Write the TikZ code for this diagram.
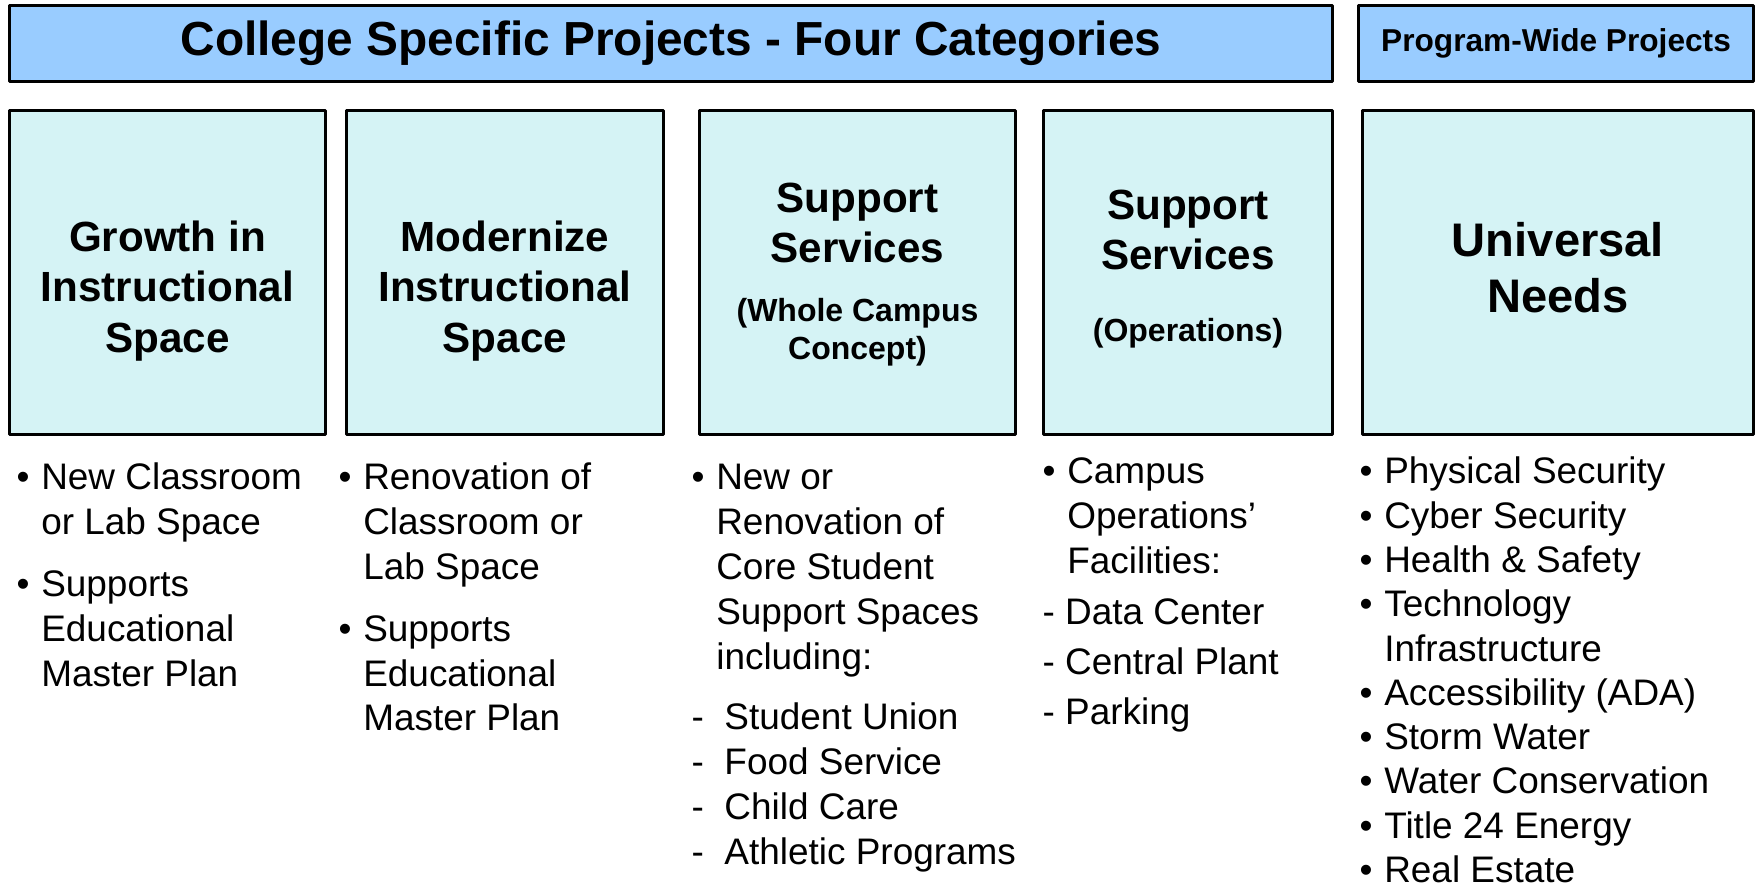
\documentclass[tikz,border=0pt]{standalone}
\usepackage{fontspec}
\setmainfont{Liberation Sans}
\definecolor{hdrblue}{RGB}{153,204,255}
\definecolor{catcyan}{RGB}{213,243,245}
\newcommand{\itembul}{\makebox[7pt][l]{\textbullet}}
\newcommand{\itemcont}{\hspace*{7pt}}
\newcommand{\firstln}{\rule{0pt}{8pt}}
\begin{document}
\begin{tikzpicture}[x=0.01cm, y=-0.01cm, line join=round,
  hdrbox/.style={draw=black, line width=0.9pt, fill=hdrblue, inner sep=0pt},
  catbox/.style={draw=black, line width=0.9pt, fill=catcyan, inner sep=0pt, minimum height=3.24cm},
  cattxt/.style={align=center, inner sep=0pt, font=\bfseries\fontsize{12}{14.4}\selectfont},
  subtxt/.style={align=center, inner sep=0pt, font=\bfseries\fontsize{9.1}{10.8}\selectfont},
  lst/.style={align=left, anchor=north west, inner sep=0pt, font=\fontsize{10.5}{12.75}\selectfont}]
\useasboundingbox (0,0) rectangle (1757,889);
% headers
\node[hdrbox, minimum width=13.22cm, minimum height=0.76cm, font=\bfseries\fontsize{13.6}{16}\selectfont] (college) at (671,43.5) {College Specific Projects - Four Categories};
\node[hdrbox, minimum width=3.94cm, minimum height=0.76cm, font=\bfseries\fontsize{9}{11}\selectfont] (program) at (1556,43.5) {Program-Wide Projects};
% category boxes
\node[catbox, minimum width=3.15cm] (grow) at (167.5,272.5) {};
\node[catbox, minimum width=3.16cm] (modern) at (505,272.5) {};
\node[catbox, minimum width=3.16cm] (campus) at (857.5,272.5) {};
\node[catbox, minimum width=2.89cm] (oper) at (1188,272.5) {};
\node[catbox, minimum width=3.9cm] (univ) at (1558,272.5) {};
\node[cattxt] (growtxt) at (167.5,291) {Growth in\\Instructional\\Space};
\node[cattxt] (moderntxt) at (505,291) {Modernize\\Instructional\\Space};
\node[cattxt] (campustxt) at (857.5,223) {Support\\Services};
\node[subtxt] (campussub) at (857.5,332) {(Whole Campus\\Concept)};
\node[cattxt] (opertxt) at (1188,230) {Support\\Services};
\node[subtxt] (opersub) at (1188,333) {(Operations)};
\node[cattxt, font=\bfseries\fontsize{13.4}{16}\selectfont] (univtxt) at (1558,268) {Universal\\Needs};
% lists
\node[lst] (growlst) at (16,461) {\firstln\itembul New Classroom\\\itemcont or Lab Space\\[4.8pt]
  \itembul Supports\\\itemcont Educational\\\itemcont Master Plan};
\node[lst] (modernlst) at (338,461) {\firstln\itembul Renovation of\\\itemcont Classroom or\\\itemcont Lab Space\\[4.8pt]
  \itembul Supports\\\itemcont Educational\\\itemcont Master Plan};
\node[lst] (campuslst) at (691,461) {\firstln\itembul New or\\\itemcont Renovation of\\\itemcont Core Student\\\itemcont Support Spaces\\\itemcont including:\\[4.5pt]
  -~~Student Union\\-~~Food Service\\-~~Child Care\\-~~Athletic Programs};
\node[lst] (operlst) at (1042,455) {\firstln\itembul Campus\\\itemcont Operations’\\\itemcont Facilities:\\[1.8pt]
  - Data Center\\[1.5pt]- Central Plant\\[1.5pt]- Parking};
\node[lst, font=\fontsize{10.5}{12.6}\selectfont] (univlst) at (1359,455) {\firstln\itembul Physical Security\\\itembul Cyber Security\\\itembul Health \& Safety\\\itembul Technology\\\itemcont Infrastructure\\
  \itembul Accessibility (ADA)\\\itembul Storm Water\\\itembul Water Conservation\\\itembul Title 24 Energy\\\itembul Real Estate};
\end{tikzpicture}
\end{document}
